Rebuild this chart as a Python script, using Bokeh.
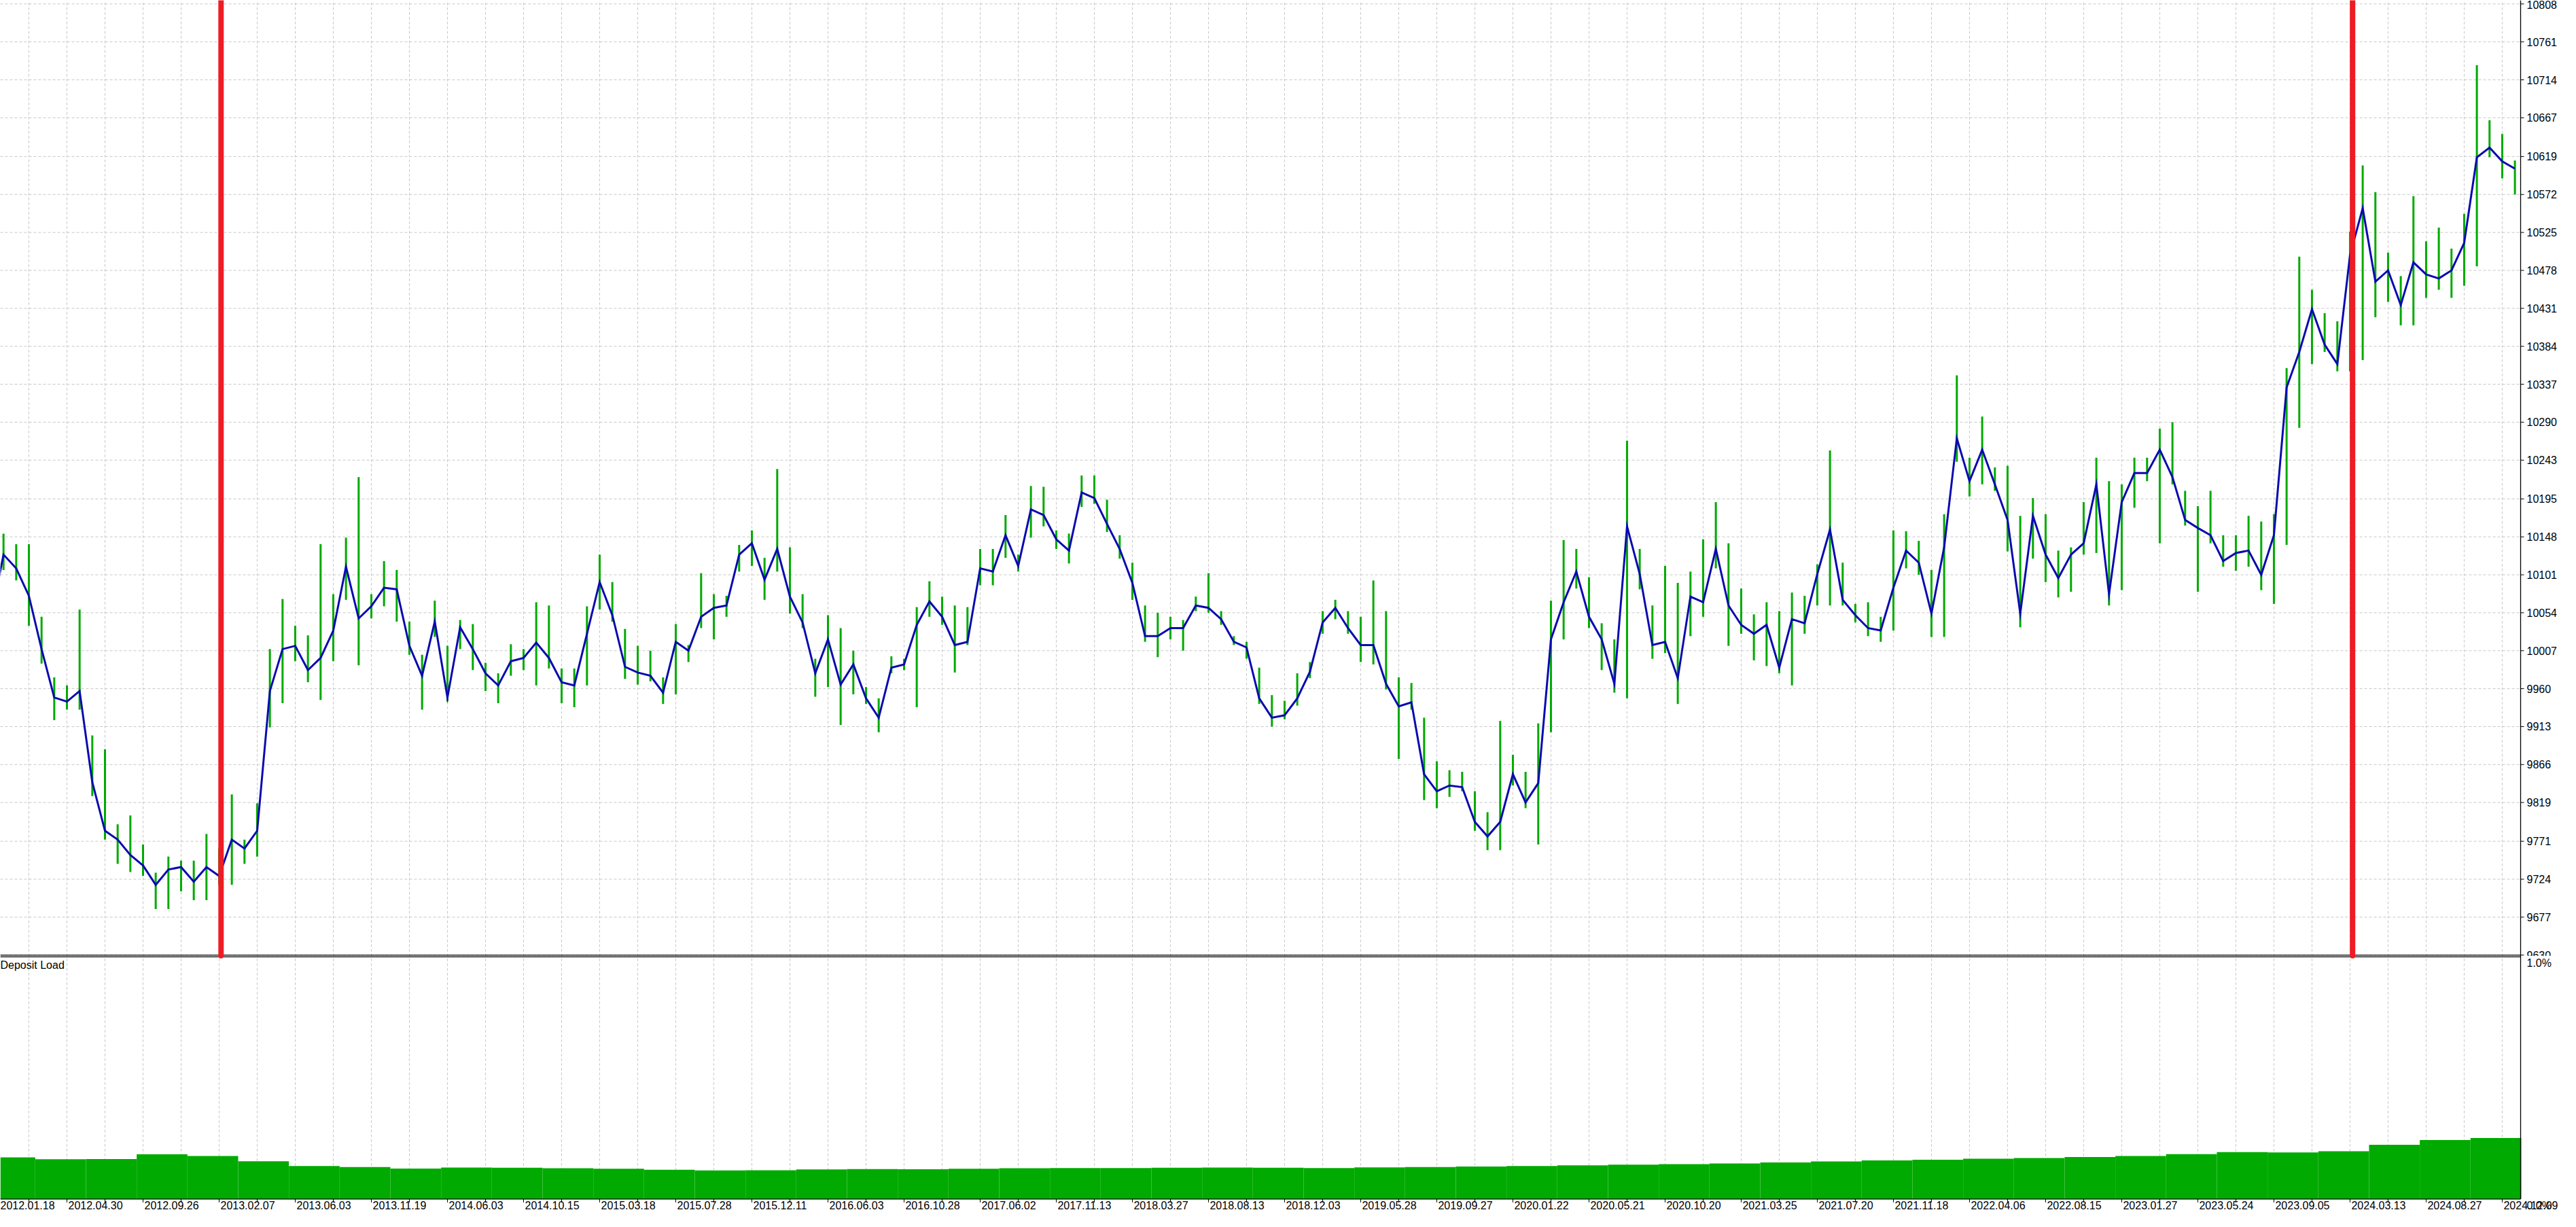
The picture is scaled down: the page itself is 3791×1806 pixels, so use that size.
from bokeh.plotting import figure
from bokeh.models import ColumnDataSource, Range1d
from bokeh.embed import file_html
from bokeh.resources import INLINE
from bokeh.core.properties import value

FONT = "Liberation Sans"
GREEN = "#00AA00"
BLUE = "#0A0AB0"
RED = "#EE1C24"
GRID = "#C8C8C8"

# ---------------- data ----------------
close = [
    10047, 10126, 10109, 10075, 10009, 9949, 9944, 9957, 9844, 9784,
    9773, 9754, 9741, 9717, 9736, 9739, 9721, 9739, 9728, 9773,
    9762, 9784, 9957, 10009, 10013, 9983, 9998, 10032, 10111, 10047,
    10062, 10085, 10083, 10013, 9976, 10043, 9949, 10036, 10009, 9979,
    9964, 9994, 9998, 10017, 9998, 9968, 9964, 10028, 10092, 10051,
    9987, 9980, 9976, 9955, 10018, 10007, 10049, 10060, 10063, 10126,
    10140, 10095, 10133, 10074, 10042, 9979, 10021, 9965, 9990, 9948,
    9924, 9986, 9990, 10039, 10068, 10049, 10014, 10018, 10109, 10105,
    10150, 10112, 10182, 10175, 10145, 10131, 10203, 10196, 10164, 10133,
    10091, 10025, 10025, 10035, 10035, 10063, 10060, 10046, 10018, 10011,
    9948, 9924, 9927, 9948, 9981, 10042, 10060, 10035, 10014, 10014,
    9966, 9938, 9943, 9854, 9833, 9840, 9838, 9795, 9777, 9795,
    9854, 9819, 9843, 10021, 10067, 10105, 10049, 10021, 9966, 10161,
    10102, 10014, 10018, 9973, 10074, 10067, 10133, 10063, 10039, 10028,
    10039, 9986, 10046, 10041, 10102, 10157, 10070, 10051, 10035, 10032,
    10085, 10131, 10116, 10053, 10135, 10270, 10217, 10256, 10213, 10169,
    10053, 10174, 10126, 10097, 10126, 10140, 10213, 10077, 10191, 10227,
    10227, 10256, 10222, 10169, 10159, 10150, 10118, 10128, 10131, 10101,
    10150, 10333, 10377, 10430, 10386, 10362, 10497, 10555, 10464, 10478,
    10435, 10488, 10473, 10468, 10478, 10512, 10618, 10630, 10613, 10604,
]
high = [
    10060, 10152, 10139, 10139, 10049, 9974, 9964, 10058, 9902, 9885,
    9792, 9803, 9767, 9732, 9752, 9747, 9747, 9780, 9762, 9829,
    9773, 9818, 10009, 10071, 10038, 10026, 10139, 10077, 10147, 10222,
    10077, 10118, 10107, 10043, 10002, 10069, 10013, 10045, 10040, 9992,
    9979, 10015, 10009, 10067, 10063, 9985, 9985, 10062, 10126, 10092,
    10034, 10013, 10007, 9974, 10040, 10014, 10103, 10077, 10075, 10138,
    10156, 10122, 10232, 10135, 10077, 9997, 10051, 10035, 10007, 9962,
    9948, 10000, 9997, 10061, 10093, 10074, 10063, 10061, 10133, 10133,
    10175, 10126, 10211, 10210, 10156, 10152, 10224, 10224, 10194, 10150,
    10116, 10063, 10054, 10049, 10045, 10074, 10103, 10056, 10025, 10018,
    9986, 9952, 9945, 9979, 9993, 10056, 10070, 10056, 10049, 10094,
    10056, 9974, 9967, 9924, 9870, 9859, 9857, 9833, 9807, 9920,
    9878, 9857, 9917, 10069, 10144, 10133, 10098, 10041, 10021, 10267,
    10133, 10063, 10112, 10091, 10105, 10145, 10191, 10140, 10084, 10052,
    10067, 10056, 10079, 10075, 10114, 10255, 10116, 10065, 10067, 10049,
    10156, 10155, 10143, 10107, 10176, 10348, 10246, 10297, 10234, 10236,
    10174, 10196, 10176, 10131, 10135, 10191, 10246, 10217, 10213, 10246,
    10246, 10282, 10290, 10205, 10186, 10205, 10150, 10150, 10174, 10167,
    10176, 10357, 10495, 10454, 10425, 10415, 10526, 10608, 10575, 10500,
    10471, 10570, 10514, 10531, 10505, 10548, 10732, 10664, 10647, 10614,
]
low = [
    10030, 10107, 10094, 10038, 9991, 9921, 9934, 9934, 9827, 9773,
    9743, 9733, 9728, 9687, 9687, 9709, 9698, 9698, 9717, 9717,
    9743, 9752, 9912, 9942, 9994, 9968, 9946, 9994, 10070, 9989,
    10047, 10062, 10043, 10002, 9934, 10024, 9944, 10009, 9983, 9957,
    9942, 9976, 9983, 9964, 9985, 9942, 9937, 9964, 10058, 10043,
    9972, 9965, 9969, 9941, 9953, 9993, 10035, 10021, 10049, 10105,
    10112, 10070, 10105, 10053, 10035, 9950, 9962, 9915, 9953, 9941,
    9906, 9979, 9983, 9937, 10049, 10039, 9980, 10014, 10088, 10088,
    10122, 10105, 10147, 10161, 10133, 10115, 10185, 10189, 10154, 10121,
    10070, 10018, 9999, 10021, 10007, 10056, 10054, 10039, 10014, 9997,
    9941, 9913, 9922, 9939, 9973, 10028, 10046, 10028, 9993, 9990,
    9959, 9873, 9934, 9822, 9812, 9826, 9833, 9784, 9760, 9760,
    9840, 9812, 9767, 9906, 10021, 10084, 10035, 9983, 9955, 9948,
    10083, 9997, 10004, 9941, 10025, 10049, 10109, 10013, 10028, 9995,
    9988, 9979, 9964, 10028, 10063, 10063, 10063, 10042, 10025, 10018,
    10032, 10109, 10101, 10024, 10024, 10241, 10198, 10213, 10205, 10130,
    10036, 10121, 10092, 10073, 10080, 10126, 10128, 10063, 10082, 10184,
    10217, 10140, 10213, 10162, 10080, 10140, 10111, 10106, 10111, 10082,
    10065, 10138, 10283, 10362, 10377, 10353, 10353, 10367, 10420, 10439,
    10410, 10410, 10444, 10454, 10444, 10459, 10483, 10618, 10592, 10572,
]

# deposit load (%), one value per group of 4 bars
deposit_load = [
    0.171, 0.163, 0.164, 0.183, 0.176, 0.155, 0.135, 0.131, 0.125, 0.129,
    0.128, 0.126, 0.124, 0.120, 0.117, 0.118, 0.121, 0.123, 0.122, 0.124,
    0.126, 0.127, 0.127, 0.128, 0.129, 0.128, 0.127, 0.130, 0.131, 0.133,
    0.135, 0.138, 0.141, 0.143, 0.146, 0.150, 0.154, 0.158, 0.161, 0.165,
    0.168, 0.172, 0.176, 0.184, 0.192, 0.191, 0.196, 0.222, 0.242, 0.250,
]
LOAD_GROUP = 4
load_tick_labels = ["1.0%", "0.0%"]

date_labels = [
    "2012.01.18", "2012.04.30", "2012.09.26", "2013.02.07", "2013.06.03",
    "2013.11.19", "2014.06.03", "2014.10.15", "2015.03.18", "2015.07.28",
    "2015.12.11", "2016.06.03", "2016.10.28", "2017.06.02", "2017.11.13",
    "2018.03.27", "2018.08.13", "2018.12.03", "2019.05.28", "2019.09.27",
    "2020.01.22", "2020.05.21", "2020.10.20", "2021.03.25", "2021.07.20",
    "2021.11.18", "2022.04.06", "2022.08.15", "2023.01.27", "2023.05.24",
    "2023.09.05", "2024.03.13", "2024.08.27", "2024.12.09",
]
LABEL_EVERY = 6   # bars between date labels
GRID_EVERY = 3    # bars between vertical grid lines

price_ticks = [9630, 9677, 9724, 9771, 9819, 9866, 9913, 9960, 10007, 10054,
               10101, 10148, 10195, 10243, 10290, 10337, 10384, 10431, 10478,
               10525, 10572, 10619, 10667, 10714, 10761, 10808]

# bar positions of the two red period markers
period_marks = [18.15, 186.2]

# ---------------- layout constants (pixels) ----------------
W, H = 3775, 1790            # canvas = frame
FRAME_W = 3709               # plotting area left of the price scale
X0, X1 = 0.75, 199.45        # visible bar range of the plotting area
PX_PER_BAR = FRAME_W / (X1 - X0)
PRICE_PER_PX = (price_ticks[-1] - price_ticks[0]) / 1400.0
Y_TOP = price_ticks[-1] + 5.3 * PRICE_PER_PX
Y_BOT = Y_TOP - H * PRICE_PER_PX
SEP = price_ticks[0]                       # separator between panels
LOAD_PX = 359                              # pixels of the load panel (0..1 %)
P0 = SEP - LOAD_PX * PRICE_PER_PX          # price level of the time axis
XB = X0 + W / PX_PER_BAR


def dpx(px):            # vertical pixels in price units
    return px * PRICE_PER_PX


def lpx(px):            # vertical pixels in load units
    return px / LOAD_PX


n = len(close)
bars = list(range(n))
src = ColumnDataSource(dict(x=bars, close=close, high=high, low=low))
grid_ticks = list(range(0, n, GRID_EVERY))
# label anchors; a label whose tick lies left of the view starts at the view edge
label_x = [max(i * LABEL_EVERY + 2 / PX_PER_BAR, X0) for i in range(len(date_labels))]

p = figure(width=W, height=H, x_range=Range1d(X0, XB), y_range=Range1d(Y_BOT, Y_TOP),
           x_axis_location=None, y_axis_location=None,
           toolbar_location=None, output_backend="svg",
           min_border_left=0, min_border_right=0, min_border_top=0, min_border_bottom=0)
p.extra_y_ranges = {"load": Range1d((Y_BOT - P0) / (SEP - P0), (Y_TOP - P0) / (SEP - P0))}
p.outline_line_color = None
p.background_fill_color = "white"
p.border_fill_color = "white"
p.xgrid.visible = False
p.ygrid.visible = False

# grids
p.segment(x0=[X0] * len(price_ticks), y0=price_ticks, x1=[X1] * len(price_ticks),
          y1=price_ticks, line_color=GRID, line_width=1, line_dash="4 3")
p.segment(x0=grid_ticks, y0=[P0] * len(grid_ticks), x1=grid_ticks,
          y1=[Y_TOP] * len(grid_ticks), line_color=GRID, line_width=1, line_dash="4 3")

# deposit load bars
load_x = [LOAD_GROUP * j + (LOAD_GROUP - 1) / 2 for j in range(len(deposit_load))]
p.vbar(x=load_x, top=deposit_load, bottom=0, width=LOAD_GROUP,
       fill_color=GREEN, line_color=None, y_range_name="load")

# price bars and close line
p.segment(x0="x", y0="low", x1="x", y1="high", source=src,
          line_color=GREEN, line_width=3)
p.line(x="x", y="close", source=src, line_color=BLUE, line_width=3,
       line_join="miter")

# price scale labels (top one kept inside the canvas)
p.text(x=[X1] * (len(price_ticks) - 1), y=price_ticks[:-1],
       text=[str(t) for t in price_ticks[:-1]], x_offset=9,
       text_align="left", text_baseline="middle",
       text_font=value(FONT), text_font_size=value("16px"), text_color="black")
p.text(x=[X1], y=[Y_TOP], text=[str(price_ticks[-1])], x_offset=9,
       text_align="left", text_baseline="top",
       text_font=value(FONT), text_font_size=value("16px"), text_color="black")
# lower panel hides the lower half of the last price label
p.quad(left=[X1 + 2 / PX_PER_BAR], right=[XB], top=[SEP - dpx(1)], bottom=[P0],
       fill_color="white", line_color=None)

# frame lines: separator (double), right scale line, time axis line
p.segment(x0=[X0, X0, X1, X0], y0=[SEP, SEP - dpx(2.5), P0, P0],
          x1=[X1, X1, X1, X1], y1=[SEP, SEP - dpx(2.5), Y_TOP, P0],
          line_color="black", line_width=1.3)
# tick marks: price scale and time axis
p.segment(x0=[X1] * len(price_ticks), y0=price_ticks,
          x1=[X1 + 5 / PX_PER_BAR] * len(price_ticks), y1=price_ticks,
          line_color="black", line_width=1)
p.segment(x0=grid_ticks, y0=[P0] * len(grid_ticks), x1=grid_ticks,
          y1=[P0 - dpx(5)] * len(grid_ticks), line_color="black", line_width=1)

# red period markers, price panel only (drawn over the separator)
p.segment(x0=period_marks, y0=[SEP - dpx(1)] * len(period_marks), x1=period_marks,
          y1=[Y_TOP + dpx(10)] * len(period_marks), line_color=RED,
          line_width=8, line_cap="round")

# date labels, left-aligned right of their tick
p.text(x=label_x, y=[P0 - dpx(3)] * len(label_x), text=date_labels,
       text_align="left", text_baseline="top",
       text_font=value(FONT), text_font_size=value("16px"), text_color="black")

# lower panel texts
p.text(x=[X0], y=[1.0 - lpx(6)], text=["Deposit Load"], y_range_name="load",
       text_align="left", text_baseline="top",
       text_font=value(FONT), text_font_size=value("16px"), text_color="black")
p.text(x=[X1, X1], y=[1.0 - lpx(3), -lpx(1)], text=load_tick_labels,
       y_range_name="load", x_offset=9, text_align="left", text_baseline="top",
       text_font=value(FONT), text_font_size=value("16px"), text_color="black")

open("out.html", "w").write(file_html(p, INLINE))
